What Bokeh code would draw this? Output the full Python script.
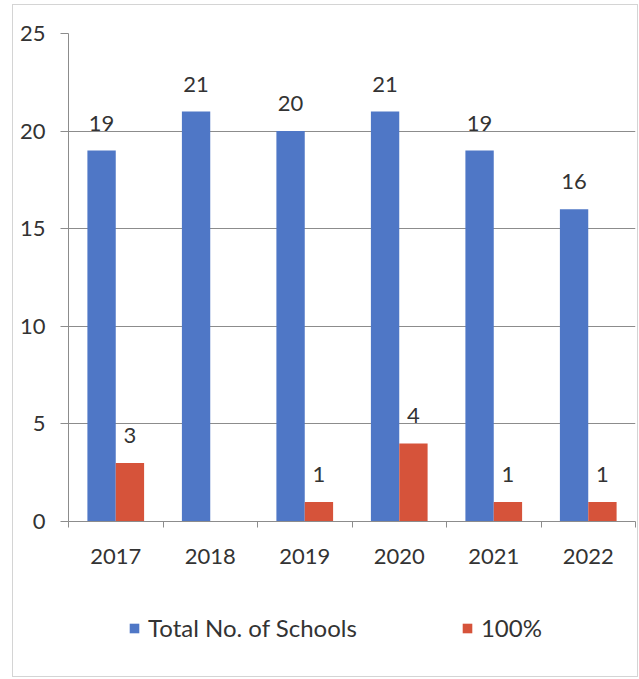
import numpy as np
from bokeh.plotting import figure
from bokeh.layouts import column
from bokeh.models import (Range1d, FixedTicker, Legend, LegendItem, LabelSet,
                          ColumnDataSource)
from bokeh.core.properties import value
from bokeh.transform import dodge
from bokeh.embed import file_html
from bokeh.resources import INLINE

years = ["2017", "2018", "2019", "2020", "2021", "2022"]
total_schools = [19, 21, 20, 21, 19, 16]
pct_100 = [3, None, 1, 4, 1, 1]
y_ticks = [0, 5, 10, 15, 20, 25]
series_names = ["Total No. of Schools", "100%"]

FONT = "Lato"
BLUE = "#4F77C6"
RED = "#D6533A"
GRID = "#8c8c8c"
TXT = "#333333"

idx = list(range(len(years)))
src = ColumnDataSource(dict(
    x=idx,
    total=total_schools,
    full=[np.nan if v is None else v for v in pct_100],
    total_lbl=[str(v) for v in total_schools],
    full_lbl=["" if v is None else str(v) for v in pct_100],
))

p = figure(width=624, height=585, output_backend="svg", toolbar_location=None,
           x_range=Range1d(-0.5, len(years) - 0.5), y_range=Range1d(0, 25),
           min_border_left=55, min_border_right=2, min_border_top=28,
           min_border_bottom=69)
p.outline_line_color = None
p.background_fill_color = "white"
p.border_fill_color = "white"

w = 0.3
r1 = p.vbar(x=dodge("x", -w / 2, range=p.x_range), top="total", width=w,
            source=src, fill_color=BLUE, line_color=None)
r2 = p.vbar(x=dodge("x", w / 2, range=p.x_range), top="full", width=w,
            source=src, fill_color=RED, line_color=None)

for col, off in (("total", -w / 2), ("full", w / 2)):
    lbl = LabelSet(x=dodge("x", off, range=p.x_range), y=col, text=col + "_lbl",
                   source=src, text_align="center", text_baseline="bottom",
                   y_offset=20, text_font=value(FONT), text_font_size="22px",
                   text_color=TXT)
    p.add_layout(lbl)

# axes
ya = p.yaxis[0]
ya.ticker = FixedTicker(ticks=y_ticks)
ya.major_tick_out = 8
ya.major_tick_in = 0
ya.minor_tick_line_color = None
ya.axis_line_color = GRID
ya.major_tick_line_color = GRID
ya.major_label_text_font = FONT
ya.major_label_text_font_size = "22px"
ya.major_label_text_color = TXT
ya.major_label_standoff = 15

xa = p.xaxis[0]
xa.ticker = FixedTicker(ticks=idx, minor_ticks=[i - 0.5 for i in range(len(years) + 1)])
xa.major_label_overrides = {i: y for i, y in enumerate(years)}
xa.major_tick_out = 0
xa.major_tick_in = 0
xa.major_tick_line_color = None
xa.minor_tick_out = 6
xa.minor_tick_in = 0
xa.minor_tick_line_color = GRID
xa.axis_line_color = GRID
xa.major_label_text_font = FONT
xa.major_label_text_font_size = "22px"
xa.major_label_text_color = TXT
xa.major_label_standoff = 21

p.xgrid.grid_line_color = None
p.ygrid.ticker = FixedTicker(ticks=y_ticks)
p.ygrid.grid_line_color = GRID

# legend strip below the chart (its bars lie outside its view range)
lg = figure(width=624, height=86, output_backend="svg", toolbar_location=None,
            x_range=Range1d(-0.5, len(years) - 0.5), y_range=Range1d(100, 101),
            x_axis_type=None, y_axis_type=None,
            min_border_left=0, min_border_right=0, min_border_top=0,
            min_border_bottom=0)
lg.outline_line_color = None
lg.xgrid.visible = False
lg.ygrid.visible = False
d1 = lg.vbar(x="x", top="total", width=w, source=src, fill_color=BLUE,
             line_color=None)
d2 = lg.vbar(x="x", top="full", width=w, source=src, fill_color=RED,
             line_color=None)
legend = Legend(items=[LegendItem(label=series_names[0], renderers=[d1]),
                       LegendItem(label=series_names[1], renderers=[d2])],
                orientation="horizontal", location=(60, 34),
                glyph_width=12, glyph_height=12, label_standoff=8, spacing=104,
                padding=0, margin=0, border_line_alpha=0,
                background_fill_alpha=0,
                label_text_font=FONT, label_text_font_size="24px",
                label_text_color=TXT)
lg.add_layout(legend, "center")

layout = column(p, lg, spacing=0)
layout.styles = {"border": "1px solid #d4d4d4", "margin-left": "12px",
                 "margin-top": "4px"}

open("out.html", "w").write(file_html(layout, INLINE))
